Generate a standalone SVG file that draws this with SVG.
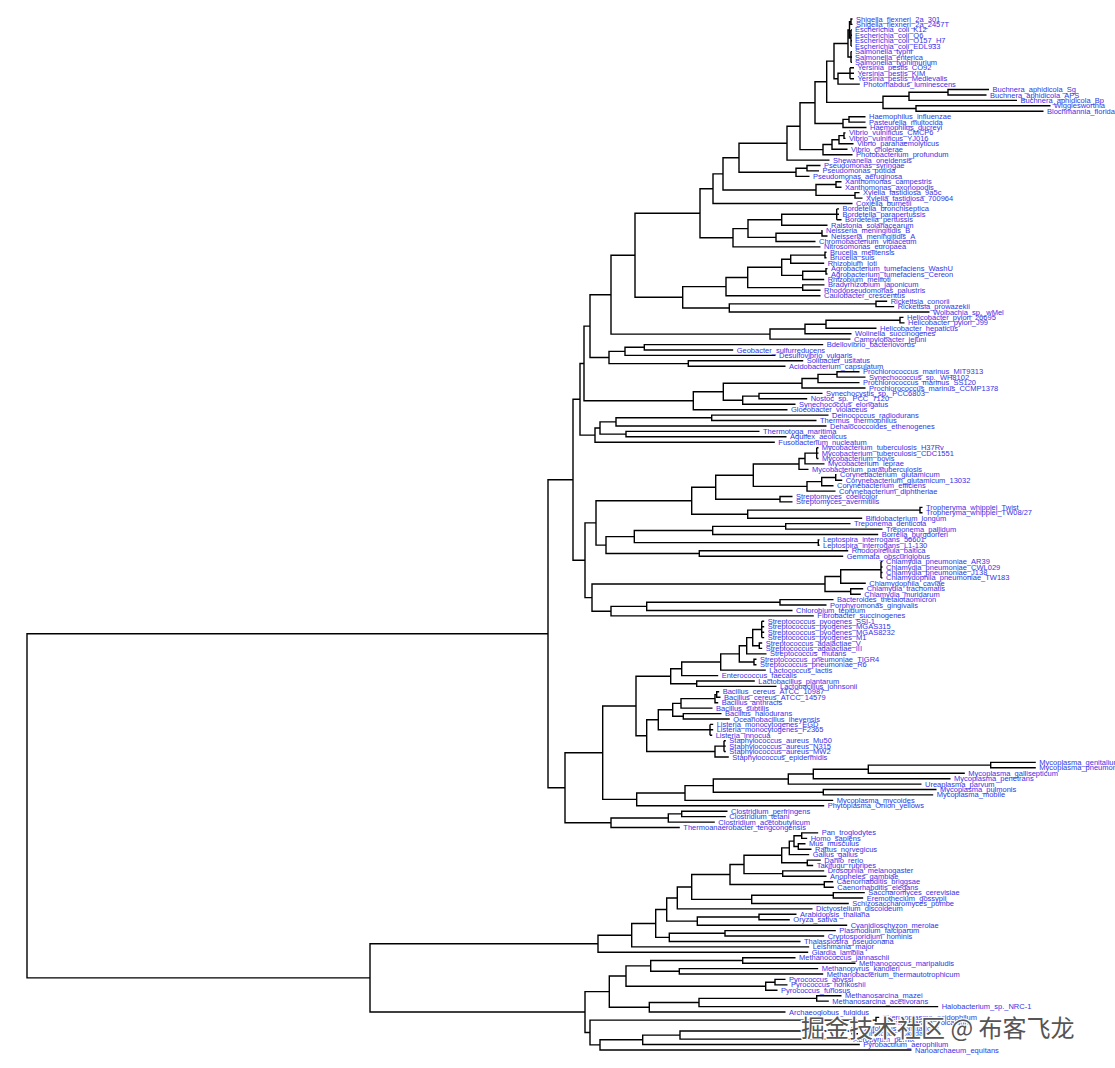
<svg xmlns="http://www.w3.org/2000/svg" width="1115" height="1068" viewBox="0 0 1115 1068">
<style>
.br path{fill:none;stroke:#000;stroke-width:1.4;stroke-linecap:butt}
text.l{font-family:"Liberation Sans",Arial,sans-serif;font-size:7.5px;fill:#3434e6;dominant-baseline:central}
.wm{font-family:"Noto Sans CJK SC","Noto Sans",sans-serif;font-size:24px;fill:#555;stroke:#fff;stroke-width:2.5;paint-order:stroke}
</style>
<rect width="1115" height="1068" fill="#fff"/>
<g id="connectors" class="br">
<path d="M852.5,19H851V24.4H852.5 M851,29.9V46.1M851,29.9H852M851,35.3H852M851,40.7H852M851,46.1H852 M851,21.7H849.5V38H851 M851,51.6V62.4M851,51.6H852M851,57H852M851,62.4H852 M849.5,29.9H848V57H851 M850,67.8V78.7M850,67.8H854M850,73.3H854M850,78.7H854 M850,73.3H838V84.1H859.8 M848,43.5H834V78.7H838"/>
<path d="M989,89.5H948V95H986.5 M948,92.3H909V100.4H1017 M1050.5,105.8H916V111.2H1043.5 M909,96.3H883V108.5H916 M834,61.1H826.7V102.4H883"/>
<path d="M865.5,116.7H849V122.1H865.5 M849,119.4H843V127.5H866.5 M826.7,81.8H815V123.5H843 M845.5,132.9H844V138.4H845.5 M844,135.6H839V143.8H853.5 M839,139.7H832V149.2H847.5 M832,144.5H823V154.7H852.5 M815,102.7H800V149.6H823 M800,126.2H787V160.1H829.5 M820.5,165.5H807V170.9H819 M807,168.2H796V176.4H809.5 M787,143.2H739V172.3H796"/>
<path d="M841.5,181.8H836V187.2H841.5 M859.5,192.6H855V198.1H862.5 M836,184.5H816V195.4H855 M739,157.8H723V190H816 M723,173.9H713V203.5H852.5"/>
<path d="M836.7,208.9V219.8M836.7,208.9H839M836.7,214.3H839M836.7,219.8H841.5 M836.7,214.3H781.7V225.2H827.5 M822.5,230.6H822V236H827.5 M822,233.3H776V241.5H815.5 M781.7,219.8H748V237.4H776 M748,228.6H733V246.9H820.5 M713,188.7H700V237.8H733"/>
<path d="M826.5,252.3H825V257.8H826.5 M825,255.1H790.7V263.2H824.2 M827.5,268.6H826V274H827.5 M826,271.3H802.7V279.5H824.2 M790.7,259.2H781.7V275.4H802.7 M824.5,284.9H802.7V290.3H820.5 M781.7,267.3H747.7V287.6H802.7 M747.7,277.5H726V295.7H820.5 M887.2,301.2H876V306.6H894.2 M876,303.9H729.3V312H929.5 M726,286.6H682.7V308H729.3 M700,213.3H635V297.3H682.7"/>
<path d="M903.5,317.4H900V322.9H904.5 M900,320.2H826V328.3H876.5 M826,324.2H805V333.7H851.5 M805,329H770V339.1H850.5 M635,255.3H611V334.1H770"/>
<path d="M823.2,344.6H644.3V350H733.2 M644.3,347.3H625V355.4H775.5 M803.2,360.8H688.3V366.3H785.5 M625,351.4H609V363.6H688.3"/>
<path d="M859.5,371.7H837V377.1H865.5 M837,374.4H818V382.6H859.5 M818,378.5H802V388H865.5 M822.5,393.4H759V398.8H807.2 M759,396.1H742.7V404.3H795.5 M802,383.3H723.3V400.2H742.7 M723.3,391.8H693.3V409.7H787.5"/>
<path d="M828.5,415.1H711.7V420.5H816.5 M711.7,417.8H616V426H826.5 M759.5,431.4H626V436.8H786.5"/>
<path d="M816.7,447.7V458.5M816.7,447.7H818.5M816.7,453.1H818.5M816.7,458.5H818.5 M816.7,453.1H805V463.9H824.5 M805,458.5H799V469.4H808.5 M836.5,474.8H835.7V480.2H842.2 M835.7,477.5H821.7V485.7H833.5 M821.7,481.6H807V491.1H835.5 M799,464H753.3V486.4H807 M792.5,496.5H780V501.9H792.5 M753.3,475.2H715.7V499.2H780 M922.5,507.4H920V512.8H922.5 M920,510.1H747.7V518.2H862.2 M715.7,487.2H691.7V514.2H747.7"/>
<path d="M850.5,523.6H785.7V529.1H882.5 M785.7,526.4H712.7V534.5H878.2 M819.5,539.9H818.3V545.3H819.5 M712.7,530.5H634.3V542.6H818.3 M848.2,550.8H699.3V556.2H843.2 M634.3,536.6H606V553.5H699.3"/>
<path d="M881,561.6V577.9M881,561.6H882.5M881,567H882.5M881,572.5H882.5M881,577.9H882.5 M881,569.8H840.7V583.3H865.8 M863.2,588.7H850.7V594.2H860.8 M840.7,576.5H825V591.5H850.7"/>
<path d="M833.5,599.6H780V605H826.5 M780,602.3H646.7V610.5H792.5 M646.7,606.4H611V615.9H813.8"/>
<path d="M761.7,621.3V637.6M761.7,621.3H764.2M761.7,626.7H764.2M761.7,632.2H764.2M761.7,637.6H764.2 M762.2,643H759.3V648.4H762.2 M761.7,629.5H752.7V645.7H759.3 M752.7,637.6H746.7V653.9H766.5 M756.5,659.3H754V664.7H756.5 M746.7,645.8H739.3V662H754 M739.3,653.9H720.7V670.1H765.8 M720.7,662H681.7V675.6H718.2 M754.8,681H696.7V686.4H776.5 M681.7,668.8H670.7V683.7H696.7"/>
<path d="M719.2,691.8H716.7V697.3H720.5 M716.7,694.6H715V702.7H718.2 M715,698.6H681V708.1H712.5 M721.5,713.6H683.3V719H729.8 M681,703.4H672.7V716.3H683.3 M710,724.4V735.3M710,724.4H713.2M710,729.8H713.2M710,735.3H712.2 M672.7,709.8H658.3V729.8H710 M724,740.7V751.5M724,740.7H725.8M724,746.1H725.8M724,751.5H725.8 M724,746.1H715V757H728.8 M658.3,719.8H646.7V751.5H715 M670.7,676.3H636V735.7H646.7"/>
<path d="M1035.8,762.4H990.7V767.8H1035.8 M990.7,765.1H868.3V773.2H964.8 M868.3,769.2H813.3V778.7H950.5 M813.3,774H788.3V784.1H921.5 M936.5,789.5H823.3V794.9H933.2 M788.3,779H713.3V792.2H823.3 M713.3,785.6H685V800.4H833.2 M685,793H636.7V805.8H824.2 M636,706H602.7V799.4H636.7"/>
<path d="M727.5,811.2H681.7V816.6H725.8 M681.7,813.9H668.3V822.1H714.8 M668.3,818H611V827.5H679.8"/>
<path d="M818.2,832.9H801.7V838.4H807.2 M805.5,843.8H798.3V849.2H811.5 M801.7,835.7H794V846.5H798.3 M794,841.1H789.3V854.6H809.2 M820.8,860.1H807.3V865.5H813.2 M789.3,847.9H781.7V862.8H807.3 M824.2,870.9H782.7V876.3H826.5 M781.7,855.3H744V873.6H782.7 M833.2,881.8H824.3V887.2H833.8 M744,864.5H730V884.5H824.3 M864.8,892.6H833.3V898H863.2 M833.3,895.3H751.7V903.5H848.8 M730,874.5H691.7V899.4H751.7 M691.7,887H677.3V908.9H812.5"/>
<path d="M796.5,914.3H759V919.7H789.8 M759,917H697.3V925.2H847.2 M677.3,898H666.7V921.1H697.3 M835.8,930.6H725V936H824.2 M725,933.3H669.3V941.5H800.5 M666.7,909.5H655.7V937.4H669.3 M655.7,923.5H631.7V946.9H809.2 M631.7,935.2H598V952.3H808.2"/>
<path d="M795.5,957.7H742.7V963.2H855.5 M818.2,968.6H679.3V974H823.2 M742.7,960.5H650.7V971.3H679.3 M785.5,979.4H775V984.9H787.5 M775,982.2H765.7V990.3H777.5 M650.7,965.9H626V986.2H765.7 M841.5,995.7H816.7V1001.1H828.8 M816.7,998.4H699V1006.6H938.2 M699,1002.5H649.3V1012H785.5 M626,976H609.3V1007.3H649.3"/>
<path d="M879.2,1017.4H876V1022.8H879.2 M858,1028.3H852V1033.7H858 M852,1031H680V1039.1H849.8 M680,1035.1H642.7V1044.5H859.8 M642.7,1039.8H600V1050H911.5 M876,1020.1H590V1044.9H600 M609.3,991.6H585V1032.5H590 M598,943.8H370V1012H585"/>
<path d="M611,294.7H590V357.5H609 M590,326.1H584V400.8H693.3 M616,421.9H600V434.1H626 M600,428H595V442.2H774.8 M584,363.5H580V435.1H595 M691.7,500.7H596V545.1H606 M825,584H592V611.2H611 M596,522.9H585V597.6H592 M580,399.3H573V560.3H585 M602.7,752.7H565V822.8H611 M573,479.8H548V787.8H565 M548,633.8H27V977.9H370"/>
</g>
<g id="labels">
<g id="n1"><text class="l" x="856" y="19">Shigella_flexneri_2a_301</text></g>
<g id="n2"><text class="l" x="856" y="24.4">Shigella_flexneri_2a_2457T</text></g>
<g id="n3"><text class="l" x="855" y="29.9">Escherichia_coli_K12</text></g>
<g id="n4"><text class="l" x="855" y="35.3">Escherichia_coli_O6</text></g>
<g id="n5"><text class="l" x="855" y="40.7">Escherichia_coli_O157_H7</text></g>
<g id="n6"><text class="l" x="855" y="46.1">Escherichia_coli_EDL933</text></g>
<g id="n7"><text class="l" x="855" y="51.6">Salmonella_typhi</text></g>
<g id="n8"><text class="l" x="855" y="57">Salmonella_enterica</text></g>
<g id="n9"><text class="l" x="855" y="62.4">Salmonella_typhimurium</text></g>
<g id="n10"><text class="l" x="857.5" y="67.8">Yersinia_pestis_CO92</text></g>
<g id="n11"><text class="l" x="857.5" y="73.3">Yersinia_pestis_KIM</text></g>
<g id="n12"><text class="l" x="857.5" y="78.7">Yersinia_pestis_Medievalis</text></g>
<g id="n13"><text class="l" x="863.3" y="84.1">Photorhabdus_luminescens</text></g>
<g id="n14"><text class="l" x="992.5" y="89.5">Buchnera_aphidicola_Sg</text></g>
<g id="n15"><text class="l" x="990" y="95">Buchnera_aphidicola_APS</text></g>
<g id="n16"><text class="l" x="1020.5" y="100.4">Buchnera_aphidicola_Bp</text></g>
<g id="n17"><text class="l" x="1054" y="105.8">Wigglesworthia</text></g>
<g id="n18"><text class="l" x="1047" y="111.2">Blochmannia_floridanus</text></g>
<g id="n19"><text class="l" x="869" y="116.7">Haemophilus_influenzae</text></g>
<g id="n20"><text class="l" x="869" y="122.1">Pasteurella_multocida</text></g>
<g id="n21"><text class="l" x="870" y="127.5">Haemophilus_ducreyi</text></g>
<g id="n22"><text class="l" x="849" y="132.9">Vibrio_vulnificus_CMCP6</text></g>
<g id="n23"><text class="l" x="849" y="138.4">Vibrio_vulnificus_YJ016</text></g>
<g id="n24"><text class="l" x="857" y="143.8">Vibrio_parahaemolyticus</text></g>
<g id="n25"><text class="l" x="851" y="149.2">Vibrio_cholerae</text></g>
<g id="n26"><text class="l" x="856" y="154.7">Photobacterium_profundum</text></g>
<g id="n27"><text class="l" x="833" y="160.1">Shewanella_oneidensis</text></g>
<g id="n28"><text class="l" x="824" y="165.5">Pseudomonas_syringae</text></g>
<g id="n29"><text class="l" x="822.5" y="170.9">Pseudomonas_putida</text></g>
<g id="n30"><text class="l" x="813" y="176.4">Pseudomonas_aeruginosa</text></g>
<g id="n31"><text class="l" x="845" y="181.8">Xanthomonas_campestris</text></g>
<g id="n32"><text class="l" x="845" y="187.2">Xanthomonas_axonopodis</text></g>
<g id="n33"><text class="l" x="863" y="192.6">Xylella_fastidiosa_9a5c</text></g>
<g id="n34"><text class="l" x="866" y="198.1">Xylella_fastidiosa_700964</text></g>
<g id="n35"><text class="l" x="856" y="203.5">Coxiella_burnetii</text></g>
<g id="n36"><text class="l" x="842.5" y="208.9">Bordetella_bronchiseptica</text></g>
<g id="n37"><text class="l" x="842.5" y="214.3">Bordetella_parapertussis</text></g>
<g id="n38"><text class="l" x="845" y="219.8">Bordetella_pertussis</text></g>
<g id="n39"><text class="l" x="831" y="225.2">Ralstonia_solanacearum</text></g>
<g id="n40"><text class="l" x="826" y="230.6">Neisseria_meningitidis_B</text></g>
<g id="n41"><text class="l" x="831" y="236">Neisseria_meningitidis_A</text></g>
<g id="n42"><text class="l" x="819" y="241.5">Chromobacterium_violaceum</text></g>
<g id="n43"><text class="l" x="824" y="246.9">Nitrosomonas_europaea</text></g>
<g id="n44"><text class="l" x="830" y="252.3">Brucella_melitensis</text></g>
<g id="n45"><text class="l" x="830" y="257.8">Brucella_suis</text></g>
<g id="n46"><text class="l" x="827.7" y="263.2">Rhizobium_loti</text></g>
<g id="n47"><text class="l" x="831" y="268.6">Agrobacterium_tumefaciens_WashU</text></g>
<g id="n48"><text class="l" x="831" y="274">Agrobacterium_tumefaciens_Cereon</text></g>
<g id="n49"><text class="l" x="827.7" y="279.5">Rhizobium_meliloti</text></g>
<g id="n50"><text class="l" x="828" y="284.9">Bradyrhizobium_japonicum</text></g>
<g id="n51"><text class="l" x="824" y="290.3">Rhodopseudomonas_palustris</text></g>
<g id="n52"><text class="l" x="824" y="295.7">Caulobacter_crescentus</text></g>
<g id="n53"><text class="l" x="890.7" y="301.2">Rickettsia_conorii</text></g>
<g id="n54"><text class="l" x="897.7" y="306.6">Rickettsia_prowazekii</text></g>
<g id="n55"><text class="l" x="933" y="312">Wolbachia_sp._wMel</text></g>
<g id="n56"><text class="l" x="907" y="317.4">Helicobacter_pylori_26695</text></g>
<g id="n57"><text class="l" x="908" y="322.9">Helicobacter_pylori_J99</text></g>
<g id="n58"><text class="l" x="880" y="328.3">Helicobacter_hepaticus</text></g>
<g id="n59"><text class="l" x="855" y="333.7">Wolinella_succinogenes</text></g>
<g id="n60"><text class="l" x="854" y="339.1">Campylobacter_jejuni</text></g>
<g id="n61"><text class="l" x="826.7" y="344.6">Bdellovibrio_bacteriovorus</text></g>
<g id="n62"><text class="l" x="736.7" y="350">Geobacter_sulfurreducens</text></g>
<g id="n63"><text class="l" x="779" y="355.4">Desulfovibrio_vulgaris</text></g>
<g id="n64"><text class="l" x="806.7" y="360.8">Solibacter_usitatus</text></g>
<g id="n65"><text class="l" x="789" y="366.3">Acidobacterium_capsulatum</text></g>
<g id="n66"><text class="l" x="863" y="371.7">Prochlorococcus_marinus_MIT9313</text></g>
<g id="n67"><text class="l" x="869" y="377.1">Synechococcus_sp._WH8102</text></g>
<g id="n68"><text class="l" x="863" y="382.6">Prochlorococcus_marinus_SS120</text></g>
<g id="n69"><text class="l" x="869" y="388">Prochlorococcus_marinus_CCMP1378</text></g>
<g id="n70"><text class="l" x="826" y="393.4">Synechocystis_sp._PCC6803</text></g>
<g id="n71"><text class="l" x="810.7" y="398.8">Nostoc_sp._PCC_7120</text></g>
<g id="n72"><text class="l" x="799" y="404.3">Synechococcus_elongatus</text></g>
<g id="n73"><text class="l" x="791" y="409.7">Gloeobacter_violaceus</text></g>
<g id="n74"><text class="l" x="832" y="415.1">Deinococcus_radiodurans</text></g>
<g id="n75"><text class="l" x="820" y="420.5">Thermus_thermophilus</text></g>
<g id="n76"><text class="l" x="830" y="426">Dehalococcoides_ethenogenes</text></g>
<g id="n77"><text class="l" x="763" y="431.4">Thermotoga_maritima</text></g>
<g id="n78"><text class="l" x="790" y="436.8">Aquifex_aeolicus</text></g>
<g id="n79"><text class="l" x="778.3" y="442.2">Fusobacterium_nucleatum</text></g>
<g id="n80"><text class="l" x="821.7" y="447.7">Mycobacterium_tuberculosis_H37Rv</text></g>
<g id="n81"><text class="l" x="821.7" y="453.1">Mycobacterium_tuberculosis_CDC1551</text></g>
<g id="n82"><text class="l" x="822" y="458.5">Mycobacterium_bovis</text></g>
<g id="n83"><text class="l" x="828" y="463.9">Mycobacterium_leprae</text></g>
<g id="n84"><text class="l" x="812" y="469.4">Mycobacterium_paratuberculosis</text></g>
<g id="n85"><text class="l" x="840" y="474.8">Corynebacterium_glutamicum</text></g>
<g id="n86"><text class="l" x="845.7" y="480.2">Corynebacterium_glutamicum_13032</text></g>
<g id="n87"><text class="l" x="837" y="485.7">Corynebacterium_efficiens</text></g>
<g id="n88"><text class="l" x="839" y="491.1">Corynebacterium_diphtheriae</text></g>
<g id="n89"><text class="l" x="796" y="496.5">Streptomyces_coelicolor</text></g>
<g id="n90"><text class="l" x="796" y="501.9">Streptomyces_avermitilis</text></g>
<g id="n91"><text class="l" x="926" y="507.4">Tropheryma_whipplei_Twist</text></g>
<g id="n92"><text class="l" x="926" y="512.8">Tropheryma_whipplei_TW08/27</text></g>
<g id="n93"><text class="l" x="865.7" y="518.2">Bifidobacterium_longum</text></g>
<g id="n94"><text class="l" x="854" y="523.6">Treponema_denticola</text></g>
<g id="n95"><text class="l" x="886" y="529.1">Treponema_pallidum</text></g>
<g id="n96"><text class="l" x="881.7" y="534.5">Borrelia_burgdorferi</text></g>
<g id="n97"><text class="l" x="823" y="539.9">Leptospira_interrogans_56601</text></g>
<g id="n98"><text class="l" x="823" y="545.3">Leptospira_interrogans_L1-130</text></g>
<g id="n99"><text class="l" x="851.7" y="550.8">Rhodopirellula_baltica</text></g>
<g id="n100"><text class="l" x="846.7" y="556.2">Gemmata_obscuriglobus</text></g>
<g id="n101"><text class="l" x="886" y="561.6">Chlamydia_pneumoniae_AR39</text></g>
<g id="n102"><text class="l" x="886" y="567">Chlamydia_pneumoniae_CWL029</text></g>
<g id="n103"><text class="l" x="886" y="572.5">Chlamydia_pneumoniae_J138</text></g>
<g id="n104"><text class="l" x="886" y="577.9">Chlamydophila_pneumoniae_TW183</text></g>
<g id="n105"><text class="l" x="869.3" y="583.3">Chlamydophila_caviae</text></g>
<g id="n106"><text class="l" x="866.7" y="588.7">Chlamydia_trachomatis</text></g>
<g id="n107"><text class="l" x="864.3" y="594.2">Chlamydia_muridarum</text></g>
<g id="n108"><text class="l" x="837" y="599.6">Bacteroides_thetaiotaomicron</text></g>
<g id="n109"><text class="l" x="830" y="605">Porphyromonas_gingivalis</text></g>
<g id="n110"><text class="l" x="796" y="610.5">Chlorobium_tepidum</text></g>
<g id="n111"><text class="l" x="817.3" y="615.9">Fibrobacter_succinogenes</text></g>
<g id="n112"><text class="l" x="767.7" y="621.3">Streptococcus_pyogenes_SSI-1</text></g>
<g id="n113"><text class="l" x="767.7" y="626.7">Streptococcus_pyogenes_MGAS315</text></g>
<g id="n114"><text class="l" x="767.7" y="632.2">Streptococcus_pyogenes_MGAS8232</text></g>
<g id="n115"><text class="l" x="767.7" y="637.6">Streptococcus_pyogenes_M1</text></g>
<g id="n116"><text class="l" x="765.7" y="643">Streptococcus_agalactiae_V</text></g>
<g id="n117"><text class="l" x="765.7" y="648.4">Streptococcus_agalactiae_III</text></g>
<g id="n118"><text class="l" x="770" y="653.9">Streptococcus_mutans</text></g>
<g id="n119"><text class="l" x="760" y="659.3">Streptococcus_pneumoniae_TIGR4</text></g>
<g id="n120"><text class="l" x="760" y="664.7">Streptococcus_pneumoniae_R6</text></g>
<g id="n121"><text class="l" x="769.3" y="670.1">Lactococcus_lactis</text></g>
<g id="n122"><text class="l" x="721.7" y="675.6">Enterococcus_faecalis</text></g>
<g id="n123"><text class="l" x="758.3" y="681">Lactobacillus_plantarum</text></g>
<g id="n124"><text class="l" x="780" y="686.4">Lactobacillus_johnsonii</text></g>
<g id="n125"><text class="l" x="722.7" y="691.8">Bacillus_cereus_ATCC_10987</text></g>
<g id="n126"><text class="l" x="724" y="697.3">Bacillus_cereus_ATCC_14579</text></g>
<g id="n127"><text class="l" x="721.7" y="702.7">Bacillus_anthracis</text></g>
<g id="n128"><text class="l" x="716" y="708.1">Bacillus_subtilis</text></g>
<g id="n129"><text class="l" x="725" y="713.6">Bacillus_halodurans</text></g>
<g id="n130"><text class="l" x="733.3" y="719">Oceanobacillus_iheyensis</text></g>
<g id="n131"><text class="l" x="716.7" y="724.4">Listeria_monocytogenes_EGD</text></g>
<g id="n132"><text class="l" x="716.7" y="729.8">Listeria_monocytogenes_F2365</text></g>
<g id="n133"><text class="l" x="715.7" y="735.3">Listeria_innocua</text></g>
<g id="n134"><text class="l" x="729.3" y="740.7">Staphylococcus_aureus_Mu50</text></g>
<g id="n135"><text class="l" x="729.3" y="746.1">Staphylococcus_aureus_N315</text></g>
<g id="n136"><text class="l" x="729.3" y="751.5">Staphylococcus_aureus_MW2</text></g>
<g id="n137"><text class="l" x="732.3" y="757">Staphylococcus_epidermidis</text></g>
<g id="n138"><text class="l" x="1039.3" y="762.4">Mycoplasma_genitalium</text></g>
<g id="n139"><text class="l" x="1039.3" y="767.8">Mycoplasma_pneumoniae</text></g>
<g id="n140"><text class="l" x="968.3" y="773.2">Mycoplasma_gallisepticum</text></g>
<g id="n141"><text class="l" x="954" y="778.7">Mycoplasma_penetrans</text></g>
<g id="n142"><text class="l" x="925" y="784.1">Ureaplasma_parvum</text></g>
<g id="n143"><text class="l" x="940" y="789.5">Mycoplasma_pulmonis</text></g>
<g id="n144"><text class="l" x="936.7" y="794.9">Mycoplasma_mobile</text></g>
<g id="n145"><text class="l" x="836.7" y="800.4">Mycoplasma_mycoides</text></g>
<g id="n146"><text class="l" x="827.7" y="805.8">Phytoplasma_Onion_yellows</text></g>
<g id="n147"><text class="l" x="731" y="811.2">Clostridium_perfringens</text></g>
<g id="n148"><text class="l" x="729.3" y="816.6">Clostridium_tetani</text></g>
<g id="n149"><text class="l" x="718.3" y="822.1">Clostridium_acetobutylicum</text></g>
<g id="n150"><text class="l" x="683.3" y="827.5">Thermoanaerobacter_tengcongensis</text></g>
<g id="n151"><text class="l" x="821.7" y="832.9">Pan_troglodytes</text></g>
<g id="n152"><text class="l" x="810.7" y="838.4">Homo_sapiens</text></g>
<g id="n153"><text class="l" x="809" y="843.8">Mus_musculus</text></g>
<g id="n154"><text class="l" x="815" y="849.2">Rattus_norvegicus</text></g>
<g id="n155"><text class="l" x="812.7" y="854.6">Gallus_gallus</text></g>
<g id="n156"><text class="l" x="824.3" y="860.1">Danio_rerio</text></g>
<g id="n157"><text class="l" x="816.7" y="865.5">Takifugu_rubripes</text></g>
<g id="n158"><text class="l" x="827.7" y="870.9">Drosophila_melanogaster</text></g>
<g id="n159"><text class="l" x="830" y="876.3">Anopheles_gambiae</text></g>
<g id="n160"><text class="l" x="836.7" y="881.8">Caenorhabditis_briggsae</text></g>
<g id="n161"><text class="l" x="837.3" y="887.2">Caenorhabditis_elegans</text></g>
<g id="n162"><text class="l" x="868.3" y="892.6">Saccharomyces_cerevisiae</text></g>
<g id="n163"><text class="l" x="866.7" y="898">Eremothecium_gossypii</text></g>
<g id="n164"><text class="l" x="852.3" y="903.5">Schizosaccharomyces_pombe</text></g>
<g id="n165"><text class="l" x="816" y="908.9">Dictyostelium_discoideum</text></g>
<g id="n166"><text class="l" x="800" y="914.3">Arabidopsis_thaliana</text></g>
<g id="n167"><text class="l" x="793.3" y="919.7">Oryza_sativa</text></g>
<g id="n168"><text class="l" x="850.7" y="925.2">Cyanidioschyzon_merolae</text></g>
<g id="n169"><text class="l" x="839.3" y="930.6">Plasmodium_falciparum</text></g>
<g id="n170"><text class="l" x="827.7" y="936">Cryptosporidium_hominis</text></g>
<g id="n171"><text class="l" x="804" y="941.5">Thalassiosira_pseudonana</text></g>
<g id="n172"><text class="l" x="812.7" y="946.9">Leishmania_major</text></g>
<g id="n173"><text class="l" x="811.7" y="952.3">Giardia_lamblia</text></g>
<g id="n174"><text class="l" x="799" y="957.7">Methanococcus_jannaschii</text></g>
<g id="n175"><text class="l" x="859" y="963.2">Methanococcus_maripaludis</text></g>
<g id="n176"><text class="l" x="821.7" y="968.6">Methanopyrus_kandleri</text></g>
<g id="n177"><text class="l" x="826.7" y="974">Methanobacterium_thermautotrophicum</text></g>
<g id="n178"><text class="l" x="789" y="979.4">Pyrococcus_abyssi</text></g>
<g id="n179"><text class="l" x="791" y="984.9">Pyrococcus_horikoshii</text></g>
<g id="n180"><text class="l" x="781" y="990.3">Pyrococcus_furiosus</text></g>
<g id="n181"><text class="l" x="845" y="995.7">Methanosarcina_mazei</text></g>
<g id="n182"><text class="l" x="832.3" y="1001.1">Methanosarcina_acetivorans</text></g>
<g id="n183"><text class="l" x="941.7" y="1006.6">Halobacterium_sp._NRC-1</text></g>
<g id="n184"><text class="l" x="789" y="1012">Archaeoglobus_fulgidus</text></g>
<g id="n185"><text class="l" x="882.7" y="1017.4">Thermoplasma_acidophilum</text></g>
<g id="n186"><text class="l" x="882.7" y="1022.8">Thermoplasma_volcanium</text></g>
<g id="n187"><text class="l" x="861.5" y="1028.3">Sulfolobus_solfataricus</text></g>
<g id="n188"><text class="l" x="861.5" y="1033.7">Sulfolobus_tokodaii</text></g>
<g id="n189"><text class="l" x="853.3" y="1039.1">Aeropyrum_pernix</text></g>
<g id="n190"><text class="l" x="863.3" y="1044.5">Pyrobaculum_aerophilum</text></g>
<g id="n191"><text class="l" x="915" y="1050">Nanoarchaeum_equitans</text></g>
</g>
<g id="watermark"><text class="wm" x="801" y="1037">掘金技术社区 @ 布客飞龙</text></g>
</svg>
